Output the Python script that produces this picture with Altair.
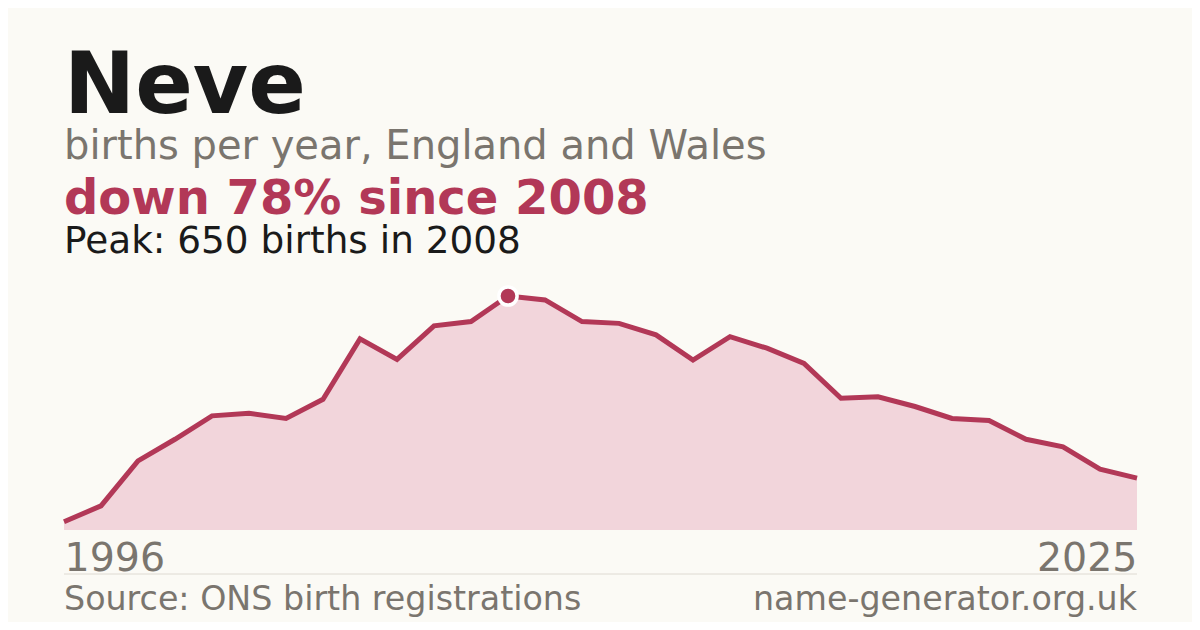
import altair as alt
import pandas as pd

# ---- data ----
years = list(range(1996, 2026))
births = [23, 67, 192, 252, 317, 324, 310, 363, 531, 474, 567, 579, 650,
          639, 579, 574, 542, 472, 537, 505, 463, 366, 370, 343, 310, 304,
          252, 231, 169, 144]

name = "Neve"
subtitle = "births per year, England and Wales"
headline = "down 78% since 2008"
peak_text = "Peak: 650 births in 2008"
source_text = "Source: ONS birth registrations"
site_text = "name-generator.org.uk"

# ---- styling ----
RED = "#b23857"
FILL = "#f2d5db"
BG = "#fbfaf5"
DARK = "#1a1a1a"
GRAY = "#7a756e"
FONT = "DejaVu Sans"
W, H = 1073, 234

df = pd.DataFrame({"year": years, "births": births})

x = alt.X("year:Q", scale=alt.Scale(domain=[years[0], years[-1]], nice=False, zero=False),
          axis=alt.Axis(values=[years[0], years[-1]], format="d", labelFlush=True,
                        labelFontSize=39.5, labelColor=GRAY, labelFont=FONT,
                        labelBaseline="alphabetic", labelPadding=40,
                        domain=False, ticks=False, tickSize=0, grid=False, title=None))
y = alt.Y("births:Q", scale=alt.Scale(domain=[0, 650], nice=False), axis=None)

base = alt.Chart(df)
area = base.mark_area(color=FILL, opacity=1).encode(x=x, y=y)
line = base.mark_line(color=RED, strokeWidth=5).encode(x=x, y=y)
peak = base.transform_joinaggregate(maxb="max(births)").transform_filter(
    "datum.births == datum.maxb"
).mark_circle(size=330, color=RED, opacity=1, stroke="white", strokeWidth=3.5).encode(x=x, y=y)


def label(txt, xv, yv, size, color, weight="normal", align="left"):
    return alt.Chart(alt.Data(values=[{"t": txt}])).mark_text(
        font=FONT, fontSize=size, color=color, fontWeight=weight,
        align=align, baseline="alphabetic"
    ).encode(x=alt.value(xv), y=alt.value(yv), text="t:N")


texts = [
    label(name, 0, -183, 85, DARK, "bold"),
    label(subtitle, 0, -137, 40, GRAY),
    label(headline, 0, -82, 48, RED, "bold"),
    label(peak_text, 0, -43, 37.4, DARK),
    label(source_text, 0, 314, 33.3, GRAY),
    label(site_text, W, 314, 33.3, GRAY, align="right"),
]

divider = alt.Chart(alt.Data(values=[{"a": 1}])).mark_rule(color="#dedad2", strokeWidth=1).encode(
    x=alt.value(0), x2=alt.value(W), y=alt.value(278)
)

chart = alt.layer(area, line, peak, divider, *texts).properties(
    width=W, height=H,
    autosize=alt.AutoSizeParams(type="none"),
    padding={"left": 56, "top": 288, "right": 55, "bottom": 92},
    background=BG,
).configure_view(stroke=None)

chart.save("out.html", embed_options={"renderer": "svg", "actions": False})
